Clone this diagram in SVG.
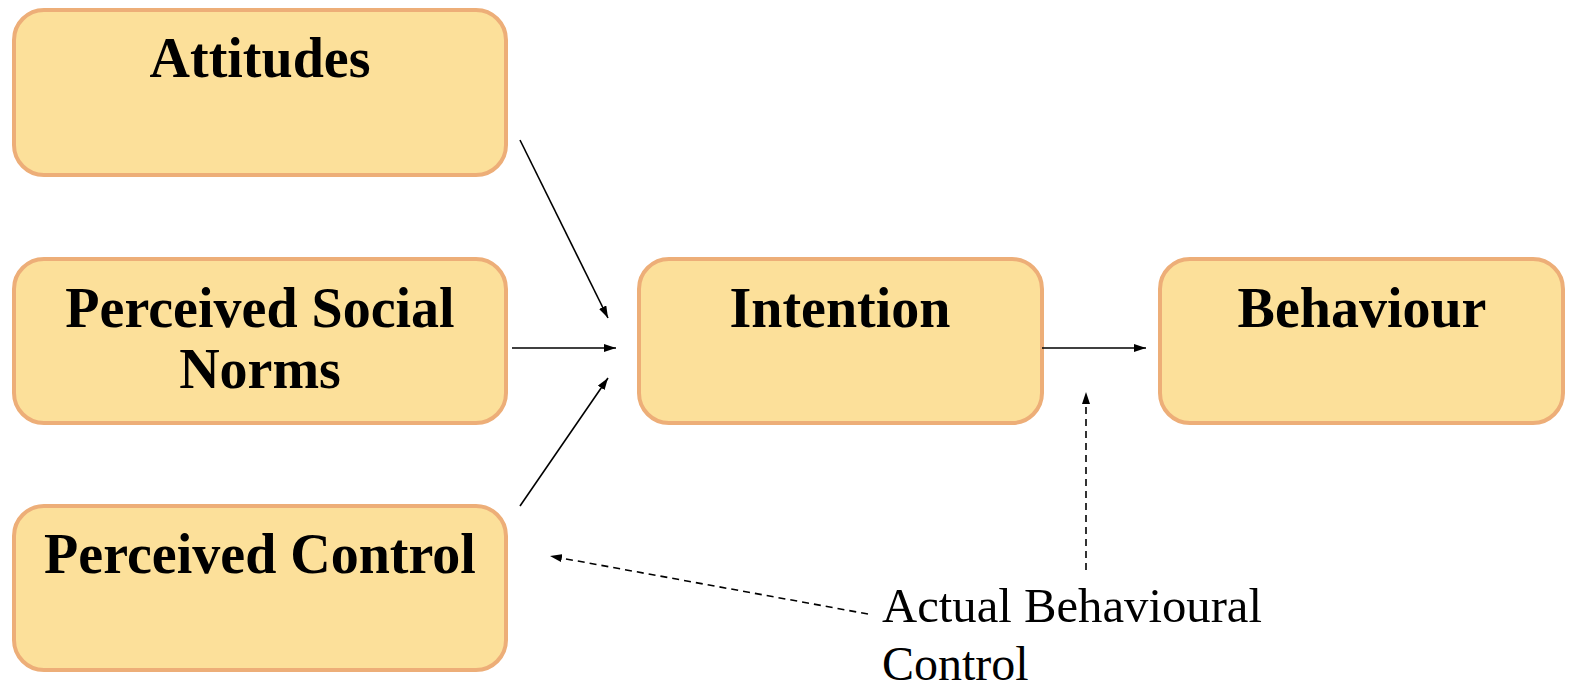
<svg xmlns="http://www.w3.org/2000/svg" width="1593" height="698" viewBox="0 0 1593 698">
<style>
.box{fill:#FCE09A;stroke:#EDAE78;stroke-width:4}
.t{font-family:"Liberation Serif",serif;font-weight:bold;font-size:56px;fill:#000;text-anchor:middle}
.lbl{font-family:"Liberation Serif",serif;font-size:48px;fill:#000}
.c{stroke:#000;stroke-width:1.6;fill:none}
.d{stroke-dasharray:7,5}
</style>
<defs>
<marker id="ah" viewBox="0 0 12 8" refX="12" refY="4" markerWidth="12" markerHeight="8" markerUnits="userSpaceOnUse" orient="auto">
<path d="M0,0 L12,4 L0,8 z" fill="#000"/>
</marker>
</defs>
<g id="attitudes"><rect class="box" x="14" y="10" width="492" height="165" rx="30"/><text class="t" x="260" y="77">Attitudes</text></g>
<g id="norms"><rect class="box" x="14" y="259" width="492" height="164" rx="30"/><text class="t" x="260" y="327">Perceived Social</text><text class="t" x="260" y="388">Norms</text></g>
<g id="control"><rect class="box" x="14" y="506" width="492" height="164" rx="30"/><text class="t" x="260" y="573">Perceived Control</text></g>
<g id="intention"><rect class="box" x="639" y="259" width="403" height="164" rx="30"/><text class="t" x="840" y="327">Intention</text></g>
<g id="behaviour"><rect class="box" x="1160" y="259" width="403" height="164" rx="30"/><text class="t" x="1362" y="327">Behaviour</text></g>
<g id="actual"><text class="lbl" x="882" y="622" textLength="380" lengthAdjust="spacingAndGlyphs">Actual Behavioural</text><text class="lbl" x="882" y="680">Control</text></g>
<g id="connectors">
<line class="c" x1="520" y1="140" x2="608" y2="318" marker-end="url(#ah)"/>
<line class="c" x1="512" y1="348" x2="616" y2="348" marker-end="url(#ah)"/>
<line class="c" x1="520" y1="506" x2="608" y2="378" marker-end="url(#ah)"/>
<line class="c" x1="1042" y1="348" x2="1146" y2="348" marker-end="url(#ah)"/>
<line class="c d" x1="1086" y1="570" x2="1086" y2="392" marker-end="url(#ah)"/>
<line class="c d" x1="868" y1="614" x2="550" y2="556" marker-end="url(#ah)"/>
</g>
</svg>
